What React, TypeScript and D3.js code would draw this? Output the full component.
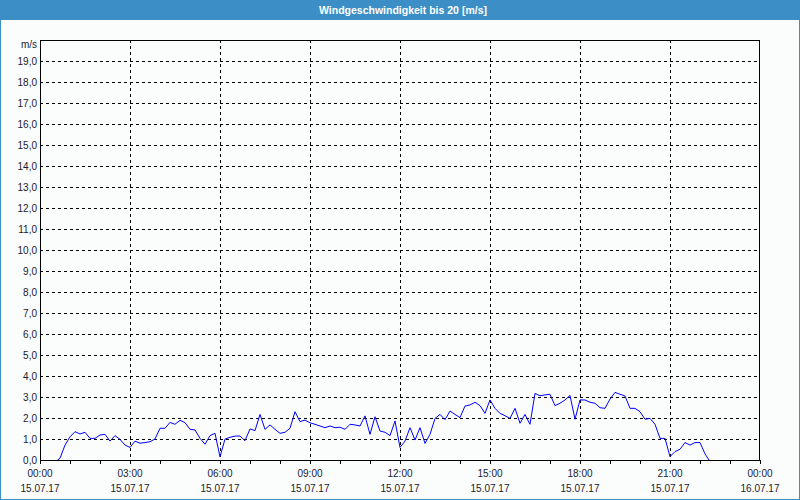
import React from "react";
import * as d3 from "d3";

const TITLE = "Windgeschwindigkeit bis 20 [m/s]";
const UNIT = "m/s";
const yTicks = d3.range(0, 20, 1);
const xTickHours = [0, 3, 6, 9, 12, 15, 18, 21, 24];
const xTimeLabels = ["00:00", "03:00", "06:00", "09:00", "12:00", "15:00", "18:00", "21:00", "00:00"];
const xDateLabels = ["15.07.17", "15.07.17", "15.07.17", "15.07.17", "15.07.17", "15.07.17", "15.07.17", "15.07.17", "16.07.17"];

// samples every 10 minutes from 00:40 to 22:10 (minutes since midnight)
const firstMinute = 40;
const stepMinutes = 10;
const windValues = [
  0.08, 0.71,
  1.1, 1.35, 1.24, 1.32, 1.03, 1.03,
  1.19, 1.22, 0.9, 1.16, 0.98, 0.71,
  0.6, 0.9, 0.8, 0.83, 0.87, 1.0,
  1.51, 1.51, 1.79, 1.7, 1.89, 1.78,
  1.46, 1.43, 1.03, 0.75, 1.16, 1.27,
  0.15, 1.0, 1.08, 1.14, 1.14, 0.92,
  1.48, 1.4, 2.17, 1.46, 1.67, 1.46,
  1.27, 1.32, 1.51, 2.3, 1.83, 1.9,
  1.77, 1.7, 1.62, 1.54, 1.62, 1.54,
  1.56, 1.46, 1.7, 1.67, 1.62, 2.1,
  1.22, 2.06, 1.38, 1.32, 1.16, 1.86,
  0.6, 0.9, 1.54, 0.95, 1.54, 0.79,
  1.22, 1.98, 2.17, 1.92, 2.33, 2.17,
  2.02, 2.57, 2.62, 2.75, 2.59, 2.22,
  2.86, 2.46, 2.22, 2.11, 1.98, 2.46,
  1.75, 2.17, 1.7, 3.17, 3.06, 3.1,
  3.13, 2.59, 2.7, 2.86, 3.07, 1.94,
  2.86, 2.86, 2.75, 2.7, 2.49, 2.46,
  2.9, 3.22, 3.13, 3.05, 2.46, 2.46,
  2.3, 1.94, 1.98, 1.7, 1.03, 1.03,
  0.16, 0.4, 0.51, 0.83, 0.71, 0.83,
  0.83, 0.29,
];
const startPoint = { minute: 35, value: 0 };
const endPoint = { minute: 1338, value: 0 };

const W = 800;
const H = 500;
const M = { left: 40, right: 40, top: 40, bottom: 40 };
const FONT = "'Liberation Sans', Arial, sans-serif";
const BLUE = "#3c8fc6";
const TEXT = "#1a1a2e";

export default function App() {
  const x = d3.scaleLinear().domain([0, 24 * 60]).range([M.left, W - M.right]);
  const y = d3.scaleLinear().domain([0, 20]).range([H - M.bottom, M.top]);

  const pts: [number, number][] = [
    [startPoint.minute, startPoint.value],
    ...windValues.map((v, i) => [firstMinute + i * stepMinutes, v] as [number, number]),
    [endPoint.minute, endPoint.value],
  ];
  const line = d3
    .line<[number, number]>()
    .x((d) => x(d[0]))
    .y((d) => y(d[1]));

  const hourTicks = d3.range(0, 25, 1);
  const x0 = x(0), x1 = x(24 * 60), yTop = y(20), yBot = y(0);

  return (
    <div style={{ position: "fixed", left: 0, top: 0 }}>
      <svg width={W} height={H} style={{ display: "block", fontFamily: FONT }}>
        <rect x={0} y={0} width={W} height={H} fill="#fbfdfc" />
        <rect x={0.5} y={0.5} width={W - 1} height={H - 1} fill="none" stroke={BLUE} />
        <rect x={0} y={0} width={W} height={20} fill={BLUE} />
        <text x={W / 2 + 3} y={14} textAnchor="middle" fill="#ffffff" fontSize={10.5} fontWeight="bold">
          {TITLE}
        </text>

        {/* horizontal grid */}
        {yTicks.filter((t) => t > 0).map((t) => (
          <line key={"hy" + t} x1={x0} x2={x1} y1={Math.round(y(t)) + 0.5} y2={Math.round(y(t)) + 0.5}
            stroke="#000" strokeDasharray="3,3" shapeRendering="crispEdges" />
        ))}
        {/* vertical grid */}
        {xTickHours.filter((h) => h > 0 && h < 24).map((h) => (
          <line key={"vx" + h} x1={Math.round(x(h * 60)) + 0.5} x2={Math.round(x(h * 60)) + 0.5} y1={yTop} y2={yBot}
            stroke="#000" strokeDasharray="3,3" shapeRendering="crispEdges" />
        ))}
        {/* hour ticks */}
        {hourTicks.map((h) => (
          <line key={"ht" + h} x1={Math.round(x(h * 60)) + 0.5} x2={Math.round(x(h * 60)) + 0.5} y1={yBot} y2={yBot + 4}
            stroke="#000" shapeRendering="crispEdges" />
        ))}
        {/* frame */}
        <rect x={x0 + 0.5} y={yTop + 0.5} width={x1 - x0 - 1} height={yBot - yTop} fill="none" stroke="#000"
          shapeRendering="crispEdges" />

        {/* y labels */}
        {yTicks.map((t) => (
          <text key={"yl" + t} x={37} y={y(t) + 4} textAnchor="end" fontSize={10} fill={TEXT}>
            {t.toFixed(1).replace(".", ",")}
          </text>
        ))}
        <text x={37} y={y(20) + 8} textAnchor="end" fontSize={10} fill={TEXT}>{UNIT}</text>

        {/* x labels */}
        {xTickHours.map((h, i) => (
          <g key={"xl" + h}>
            <text x={x(h * 60)} y={477} textAnchor="middle" fontSize={10} fill={TEXT}>{xTimeLabels[i]}</text>
            <text x={x(h * 60)} y={492} textAnchor="middle" fontSize={10} fill={TEXT}>{xDateLabels[i]}</text>
          </g>
        ))}

        <path d={line(pts) || ""} fill="none" stroke="#0000ff" strokeWidth={1} />
      </svg>
    </div>
  );
}
